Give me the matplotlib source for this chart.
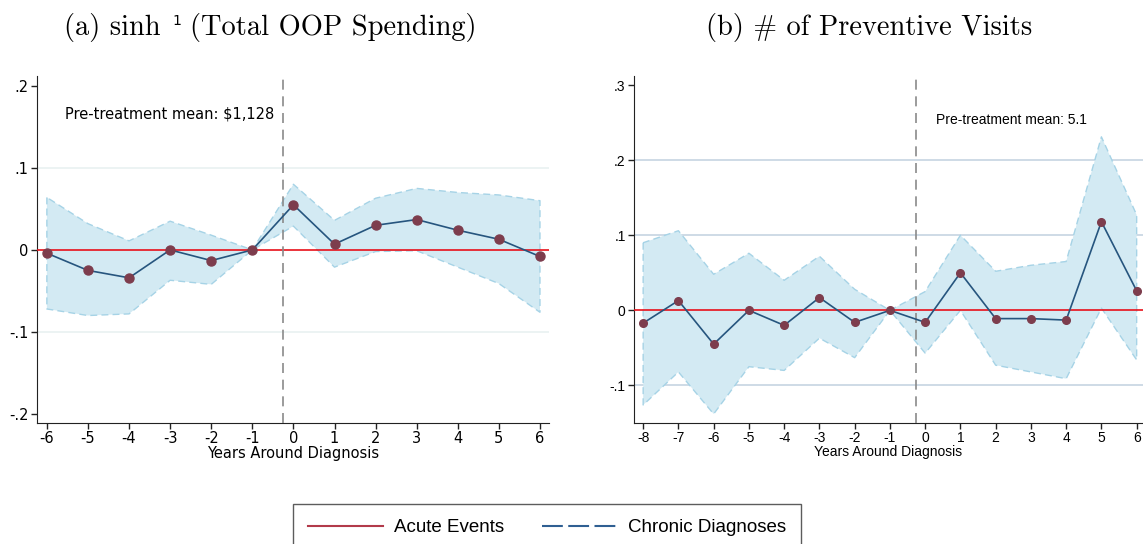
import numpy as np
import matplotlib.pyplot as plt
from matplotlib.lines import Line2D

# Event-study estimates, panel (a): asinh of total OOP spending
years_a = [-6, -5, -4, -3, -2, -1, 0, 1, 2, 3, 4, 5, 6]
coef_a = [-0.004, -0.025, -0.034, 0.0, -0.013, 0.0, 0.055, 0.007, 0.030, 0.037, 0.024, 0.013, -0.008]
upper_a = [0.064, 0.032, 0.011, 0.035, 0.018, 0.0, 0.080, 0.036, 0.063, 0.075, 0.070, 0.067, 0.060]
lower_a = [-0.072, -0.080, -0.078, -0.037, -0.042, 0.0, 0.029, -0.021, -0.002, -0.001, -0.021, -0.041, -0.076]
yticks_a = [-0.2, -0.1, 0.0, 0.1, 0.2]
ylabels_a = ["-.2", "-.1", "0", ".1", ".2"]

# Panel (b): number of preventive visits
years_b = [-8, -7, -6, -5, -4, -3, -2, -1, 0, 1, 2, 3, 4, 5, 6]
coef_b = [-0.017, 0.013, -0.045, 0.0, -0.020, 0.017, -0.016, 0.0, -0.016, 0.050, -0.011, -0.011, -0.013, 0.118, 0.026]
upper_b = [0.090, 0.106, 0.048, 0.076, 0.040, 0.072, 0.028, 0.0, 0.025, 0.100, 0.052, 0.060, 0.065, 0.231, 0.127]
lower_b = [-0.126, -0.082, -0.138, -0.075, -0.080, -0.037, -0.063, 0.0, -0.057, 0.0, -0.073, -0.082, -0.091, 0.003, -0.066]
yticks_b = [-0.1, 0.0, 0.1, 0.2, 0.3]
ylabels_b = ["-.1", "0", ".1", ".2", ".3"]

fill_col = "#d3eaf3"
edge_col = "#a6d3e6"
line_col = "#26557e"
dot_col = "#7d3d4d"

fig = plt.figure(figsize=(11.43, 5.44), dpi=100)

def panel(ax, years, coef, lower, upper, yticks, ylabels, grid_vals, grid_col, font, fsize, msize):
    ax.fill_between(years, lower, upper, facecolor=fill_col, edgecolor=edge_col,
                    linestyle=(0, (5, 3)), linewidth=1.0, zorder=2)
    ax.axhline(0, color="#e8101a", lw=1.2, zorder=3)
    for g in grid_vals:
        ax.axhline(g, color=grid_col, lw=1.2, zorder=1)
    ax.axvline(-0.25, color="#8a8a8a", lw=1.2, linestyle=(0, (6, 4)), zorder=4)
    ax.plot(years, coef, color=line_col, lw=1.2, zorder=5)
    ax.plot(years, coef, 'o', color=dot_col, markersize=msize, zorder=6, clip_on=False)
    ax.set_xticks(years)
    ax.set_xticklabels([str(y) for y in years], fontfamily=font, fontsize=fsize)
    ax.set_yticks(yticks)
    ax.set_yticklabels(ylabels, fontfamily=font, fontsize=fsize)
    ax.set_xlabel("Years Around Diagnosis", fontfamily=font, fontsize=fsize, labelpad=0)
    for s in ["top", "right"]:
        ax.spines[s].set_visible(False)
    ax.spines["left"].set_color("#222222")
    ax.spines["bottom"].set_color("#222222")
    ax.tick_params(direction="out", length=4, width=1, pad=2, colors="#222222", labelcolor="black")

ax1 = fig.add_axes([37 / 1143, 121 / 544, 512 / 1143, 347 / 544])
panel(ax1, years_a, coef_a, lower_a, upper_a, yticks_a, ylabels_a, [-0.1, 0.1],
      "#e9f1f1", "DejaVu Sans", 10.5, 6.5)
ax1.set_xlim(-6.24, 6.22)
ax1.set_ylim(-0.211, 0.212)
ax1.text(-5.56, 0.166, r"Pre-treatment mean: \$1,128", fontfamily="DejaVu Sans",
         fontsize=10.5, va="center", ha="left")

ax2 = fig.add_axes([634 / 1143, 121 / 544, 509 / 1143, 347 / 544])
panel(ax2, years_b, coef_b, lower_b, upper_b, yticks_b, ylabels_b, [-0.1, 0.1, 0.2],
      "#c6d4e2", "Liberation Sans", 10, 5.5)
ax2.set_xlim(-8.26, 6.18)
ax2.set_ylim(-0.150, 0.312)
ax2.text(0.3, 0.254, "Pre-treatment mean: 5.1", fontfamily="Liberation Sans",
         fontsize=10, va="center", ha="left")

# panel titles (the inverse-sinh exponent is a small separate "1")
fig.text(64 / 1143, 1 - 27 / 544, "(a) sinh", fontfamily="cmr10", fontsize=20.5,
         ha="left", va="center")
fig.text(172 / 1143, 1 - 21 / 544, "1", fontfamily="DejaVu Sans", fontsize=10,
         ha="left", va="center")
fig.text(477 / 1143, 1 - 27 / 544, "(Total OOP Spending)", fontfamily="cmr10",
         fontsize=20.5, ha="right", va="center")
fig.text(869 / 1143, 1 - 27 / 544, "(b) # of Preventive Visits",
         fontfamily="cmr10", fontsize=20.5, ha="center", va="center")

handles = [Line2D([], [], color="#b23a4a", lw=1.5),
           Line2D([], [], color="#2f5f92", lw=1.5, linestyle=(0, (10, 2.6)))]
leg = fig.legend(handles, ["Acute Events", "Chronic Diagnoses"], loc="upper center",
                 bbox_to_anchor=(547 / 1143, 1 - 504 / 544), ncol=2, frameon=True,
                 fancybox=False, edgecolor="#333333", handlelength=4.0,
                 handletextpad=0.55, columnspacing=2.05, borderpad=0.8,
                 borderaxespad=0, prop={"family": "Liberation Sans", "size": 13.5})
leg.get_frame().set_linewidth(1.0)

plt.savefig("out.png", dpi=100)
